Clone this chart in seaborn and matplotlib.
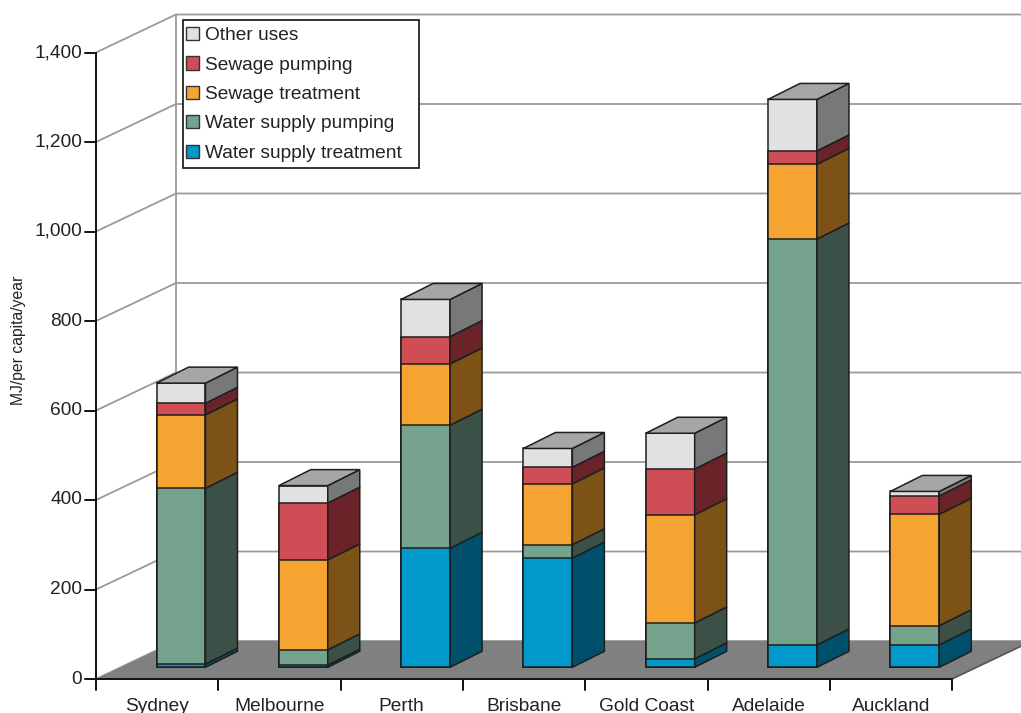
import numpy as np
import pandas as pd
import matplotlib
matplotlib.use("Agg")
import matplotlib.pyplot as plt
from matplotlib.patches import Polygon, Patch, Rectangle
from matplotlib.transforms import Affine2D
import seaborn as sns

# ---- data (MJ per capita per year) ----
cities = ["Sydney", "Melbourne", "Perth", "Brisbane", "Gold Coast", "Adelaide", "Auckland"]
water_supply_treatment = [7, 5, 266, 244, 19, 50, 50]
water_supply_pumping = [393, 34, 275, 30, 80, 907, 43]
sewage_treatment = [164, 201, 137, 136, 242, 167, 249]
sewage_pumping = [26, 127, 61, 37, 102, 30, 41]
other_uses = [45, 39, 83, 42, 80, 115, 10]

y_ticks = [0, 200, 400, 600, 800, 1000, 1200, 1400]
y_label = "MJ/per capita/year"

layers = [
    ("Water supply treatment", water_supply_treatment, "#0099CC", "#004F6B"),
    ("Water supply pumping", water_supply_pumping, "#74A28C", "#3B5147"),
    ("Sewage treatment", sewage_treatment, "#F5A431", "#7D5216"),
    ("Sewage pumping", sewage_pumping, "#CF4E55", "#6A2429"),
    ("Other uses", other_uses, "#DFE1E3", "#777878"),
]
TOP_COLOR = "#A6A6A6"
EDGE = "#1E1E1E"
GRID = "#9A9A9A"

sns.set_theme(style="white")
plt.rcParams["font.family"] = ["Liberation Sans", "DejaVu Sans"]
plt.rcParams["text.color"] = "#222222"

W, H = 1021, 713
fig = plt.figure(figsize=(W / 100, H / 100), dpi=100)
ax = fig.add_axes([0, 0, 1, 1])

# scale: one category = 122.3 px, one value unit = 0.4475 px
PXC = 122.3
PXV = 0.4475
X0_PX, Y0_PX = 157.0, 679.0


def hx(px):
    return px / PXC


def hy(px):
    return px / PXV


ax.set_xlim((0 - X0_PX) / PXC, (W - X0_PX) / PXC)
ax.set_ylim((Y0_PX - H) / PXV, Y0_PX / PXV)

# oblique depth offsets (in data units)
WALL_DX, WALL_DY = hx(80), hy(38)
FACE_DX, FACE_DY = hx(24), hy(11.7)
SIDE_DX, SIDE_DY = hx(32), hy(16)
BAR_W = 0.40

x_axis = (96 - X0_PX) / PXC
x_end = (952 - X0_PX) / PXC
x_right = ax.get_xlim()[1] + 0.5

# back wall, side wall and gridlines
for v in y_ticks:
    ax.plot([x_axis, x_axis + WALL_DX, x_right],
            [v, v + WALL_DY, v + WALL_DY],
            color=GRID, lw=1.3, zorder=1, solid_capstyle="butt")
ax.plot([x_axis + WALL_DX, x_axis + WALL_DX], [WALL_DY, y_ticks[-1] + WALL_DY],
        color=GRID, lw=1.3, zorder=1)

# floor
floor = Polygon([(x_axis, 0), (x_end, 0), (x_end + WALL_DX, WALL_DY),
                 (x_axis + WALL_DX, WALL_DY)], closed=True,
                facecolor="#808080", edgecolor="none", zorder=2)
ax.add_patch(floor)
ax.plot([x_end, x_end + WALL_DX], [0, WALL_DY], color="#555555", lw=1.2, zorder=2)

# front axes
ax.plot([x_axis, x_axis], [0, y_ticks[-1]], color="#111111", lw=1.4, zorder=3)
ax.plot([x_axis, x_end], [0, 0], color="#111111", lw=1.4, zorder=3)
tick_len_x = hx(11)
tick_len_y = hy(11)
for v in y_ticks:
    ax.plot([x_axis - tick_len_x, x_axis], [v, v], color="#111111", lw=1.4, zorder=3)
    ax.text(x_axis - hx(14), v, f"{v:,}", ha="right", va="center", fontsize=13.8)
for k in range(len(cities) + 1):
    xb = x_axis + k * 1.0
    ax.plot([xb, xb], [0, -tick_len_y], color="#111111", lw=1.4, zorder=3)
for i, c in enumerate(cities):
    ax.text(i, -hy(19), c, ha="center", va="top", fontsize=13.8)

fig.text(18 / W, 1 - 340 / H, y_label, rotation=90, ha="center", va="center",
         fontsize=11.3)

# front faces: stacked bars drawn from the cumulative totals
df = pd.DataFrame({"city": cities})
cum = np.zeros(len(cities))
cum_cols = []
for name, vals, front, side in layers:
    cum = cum + np.asarray(vals, dtype=float)
    col = name + "_cum"
    df[col] = cum
    cum_cols.append((col, front))

face_tr = Affine2D().translate(FACE_DX, FACE_DY) + ax.transData
for col, front in reversed(cum_cols):
    sns.barplot(data=df, x="city", y=col, order=cities, color=front, saturation=1,
                width=BAR_W, edgecolor=EDGE, linewidth=1.1, errorbar=None, ax=ax,
                transform=face_tr, zorder=4)

# side faces and top of each bar
for i in range(len(cities)):
    xl = i - BAR_W / 2 + FACE_DX
    xr = i + BAR_W / 2 + FACE_DX
    base = 0.0
    for name, vals, front, side in layers:
        y0 = base + FACE_DY
        y1 = base + vals[i] + FACE_DY
        ax.add_patch(Polygon([(xr, y0), (xr + SIDE_DX, y0 + SIDE_DY),
                              (xr + SIDE_DX, y1 + SIDE_DY), (xr, y1)], closed=True,
                             facecolor=side, edgecolor=EDGE, lw=1.1, zorder=4))
        base += vals[i]
    yt = base + FACE_DY
    ax.add_patch(Polygon([(xl, yt), (xl + SIDE_DX, yt + SIDE_DY),
                          (xr + SIDE_DX, yt + SIDE_DY), (xr, yt)], closed=True,
                         facecolor=TOP_COLOR, edgecolor=EDGE, lw=1.1, zorder=4))

ax.set_xlim((0 - X0_PX) / PXC, (W - X0_PX) / PXC)
ax.set_ylim((Y0_PX - H) / PXV, Y0_PX / PXV)
ax.axis("off")

# legend
fig.patches.append(Rectangle((183 / W, 1 - 168 / H), (419 - 183) / W, (168 - 20) / H,
                             transform=fig.transFigure, facecolor="white",
                             edgecolor="#111111", lw=1.2, zorder=5))
handles = [Patch(facecolor=front, edgecolor="#333333", lw=1.0, label=name)
           for name, vals, front, side in reversed(layers)]
leg = fig.legend(handles=handles, loc="upper left",
                 bbox_to_anchor=(186 / W, 1 - 27 / H), bbox_transform=fig.transFigure,
                 frameon=False, fontsize=13.8, borderpad=0, borderaxespad=0,
                 handlelength=0.68, handleheight=0.68, handletextpad=0.3,
                 labelspacing=0.63)
leg.set_zorder(6)

fig.savefig("out.png", dpi=100)
